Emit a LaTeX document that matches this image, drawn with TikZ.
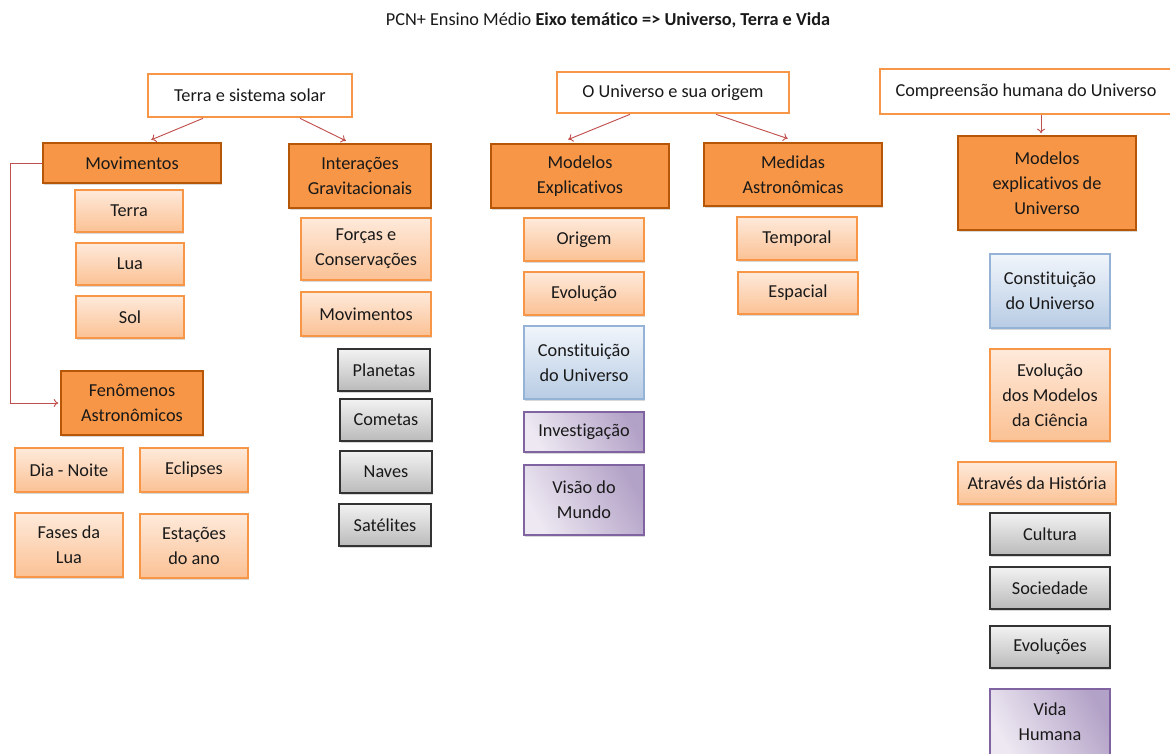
\documentclass[tikz,border=0pt]{standalone}
\usepackage{fontspec}
\setmainfont{Carlito}[Ligatures = NoCommon]
\usetikzlibrary{shadows, arrows.meta}
\definecolor{laranja}{HTML}{F79646}
\definecolor{laranjaescuro}{HTML}{B65708}
\definecolor{pessego}{HTML}{FEEADB}
\definecolor{pessegoescuro}{HTML}{FBC194}
\definecolor{azulclaro}{HTML}{F1F5FB}
\definecolor{azulescuro}{HTML}{B8CCE4}
\definecolor{azulborda}{HTML}{95B3D7}
\definecolor{lilasclaro}{HTML}{EDE8F2}
\definecolor{lilasescuro}{HTML}{B3A2C7}
\definecolor{lilasborda}{HTML}{8064A2}
\definecolor{seta}{HTML}{C0504D}
\begin{document}
\begin{tikzpicture}[x = 0.75pt, y = -0.75pt,
    every node/.style = {font = \fontsize{13.7}{18.75}\selectfont, align = center, inner sep = 0pt, text = black!90},
    tam/.style 2 args = {minimum width = #1*0.75pt, minimum height = #2*0.75pt},
    sombra/.style = {drop shadow = {shadow xshift = 1pt, shadow yshift = -1.5pt, fill = black!30, opacity = 0.5}},
    tema/.style = {draw = laranja, line width = 2pt, fill = white},
    eixo/.style = {draw = laranjaescuro, line width = 2pt, fill = laranja, sombra},
    item/.style = {draw = laranja, line width = 0.9pt, top color = pessego, bottom color = pessegoescuro, sombra},
    azul/.style = {draw = azulborda, line width = 0.9pt, top color = azulclaro, bottom color = azulescuro, sombra},
    lilas/.style = {draw = lilasborda, line width = 0.9pt, left color = lilasclaro, right color = lilasescuro, shading angle = 120, sombra},
    cinza/.style = {draw = black!80, line width = 1pt, top color = black!5, bottom color = black!27, sombra},
    conn/.style = {-{To[length = 3.5pt, width = 6pt]}, draw = seta, line width = 0.7pt, shorten > = 1pt}]
    \useasboundingbox (0, 0) rectangle (1170, 753);
    \node (titulo) at (608, 20) {PCN+ Ensino Médio \textbf{Eixo temático => Universo, Terra e Vida}};

    % temas
    \node [tema, tam = {204}{43}] (tss) at (250, 95.5) {Terra e sistema solar};
    \node [tema, tam = {232}{41}] (uso) at (673, 92.5) {O Universo e sua origem};
    \node [tema, tam = {292}{45}] (chu) at (1026, 91.5) {Compreensão humana do Universo};

    % Terra e sistema solar
    \node [eixo, tam = {178}{40}] (mov) at (132, 163) {Movimentos};
    \node [item, tam = {108}{42}] (terra) at (129, 211) {Terra};
    \node [item, tam = {108}{42}] (lua) at (130, 264) {Lua};
    \node [item, tam = {108}{42}] (sol) at (130, 317) {Sol};
    \node [eixo, tam = {142}{64}] (fen) at (132, 403) {Fenômenos\\Astronômicos};
    \node [item, tam = {108}{44}] (dian) at (69, 470) {Dia - Noite};
    \node [item, tam = {108}{44}] (ecl) at (194, 470) {Eclipses};
    \node [item, tam = {108}{64}] (fases) at (69, 545) {Fases da\\Lua};
    \node [item, tam = {108}{64}] (est) at (194, 546) {Estações\\do ano};

    \node [eixo, tam = {142}{64}] (igr) at (360, 176) {Interações\\Gravitacionais};
    \node [item, tam = {130}{62}] (forcas) at (366, 249) {Forças e\\Conservações};
    \node [item, tam = {130}{44}] (mov2) at (366, 314) {Movimentos};
    \node [cinza, tam = {92}{42}] (plan) at (384, 370) {Planetas};
    \node [cinza, tam = {92}{42}] (com) at (386, 420) {Cometas};
    \node [cinza, tam = {92}{42}] (nav) at (386, 472) {Naves};
    \node [cinza, tam = {92}{42}] (sat) at (385, 525) {Satélites};

    % O Universo e sua origem
    \node [eixo, tam = {178}{64}] (mex) at (580, 176) {Modelos\\Explicativos};
    \node [item, tam = {120}{43}] (orig) at (584, 239.5) {Origem};
    \node [item, tam = {120}{43}] (evo) at (584, 293.5) {Evolução};
    \node [azul, tam = {120}{73}] (cons) at (584, 362.5) {Constituição\\do Universo};
    \node [lilas, tam = {120}{40}] (inv) at (584, 432) {Investigação};
    \node [lilas, tam = {120}{70}] (visao) at (584, 500) {Visão do\\Mundo};

    \node [eixo, tam = {178}{63}] (med) at (793, 174.5) {Medidas\\Astronômicas};
    \node [item, tam = {120}{43}] (temp) at (797, 238.5) {Temporal};
    \node [item, tam = {120}{42}] (esp) at (798, 293) {Espacial};

    % Compreensao humana do Universo
    \node [eixo, tam = {178}{94}] (meu) at (1047, 183) {Modelos\\explicativos de\\Universo};
    \node [azul, tam = {120}{74}] (cons2) at (1050, 291) {Constituição\\do Universo};
    \node [item, tam = {120}{92}] (evmod) at (1050, 395) {Evolução\\dos Modelos\\da Ciência};
    \node [item, tam = {158}{42}] (hist) at (1037, 483) {Através da História};
    \node [cinza, tam = {120}{42}] (cult) at (1050, 534) {Cultura};
    \node [cinza, tam = {120}{42}] (soc) at (1050, 588) {Sociedade};
    \node [cinza, tam = {120}{42}] (evs) at (1050, 647) {Evoluções};
    \node [lilas, tam = {120}{66}] (vida) at (1050, 722) {Vida\\Humana};

    % setas
    \draw [conn] ([xshift = -35.25pt]tss.south) -- ([xshift = 13.5pt, yshift = 1pt]mov.north);
    \draw [conn] ([xshift = 37.5pt]tss.south) -- ([xshift = -9.75pt, yshift = 1pt]igr.north);
    \draw [conn] ([xshift = -32.25pt]uso.south) -- ([xshift = -9.75pt, yshift = 2pt]mex.north);
    \draw [conn] ([xshift = 32.25pt]uso.south) -- ([xshift = -3pt, yshift = 2pt]med.north);
    \draw [conn] ([xshift = 11.25pt]chu.south) -- ([xshift = -4.5pt]meu.north);
    \draw [conn] (mov.west) -- ++(-31, 0) |- (fen.west);
\end{tikzpicture}
\end{document}
